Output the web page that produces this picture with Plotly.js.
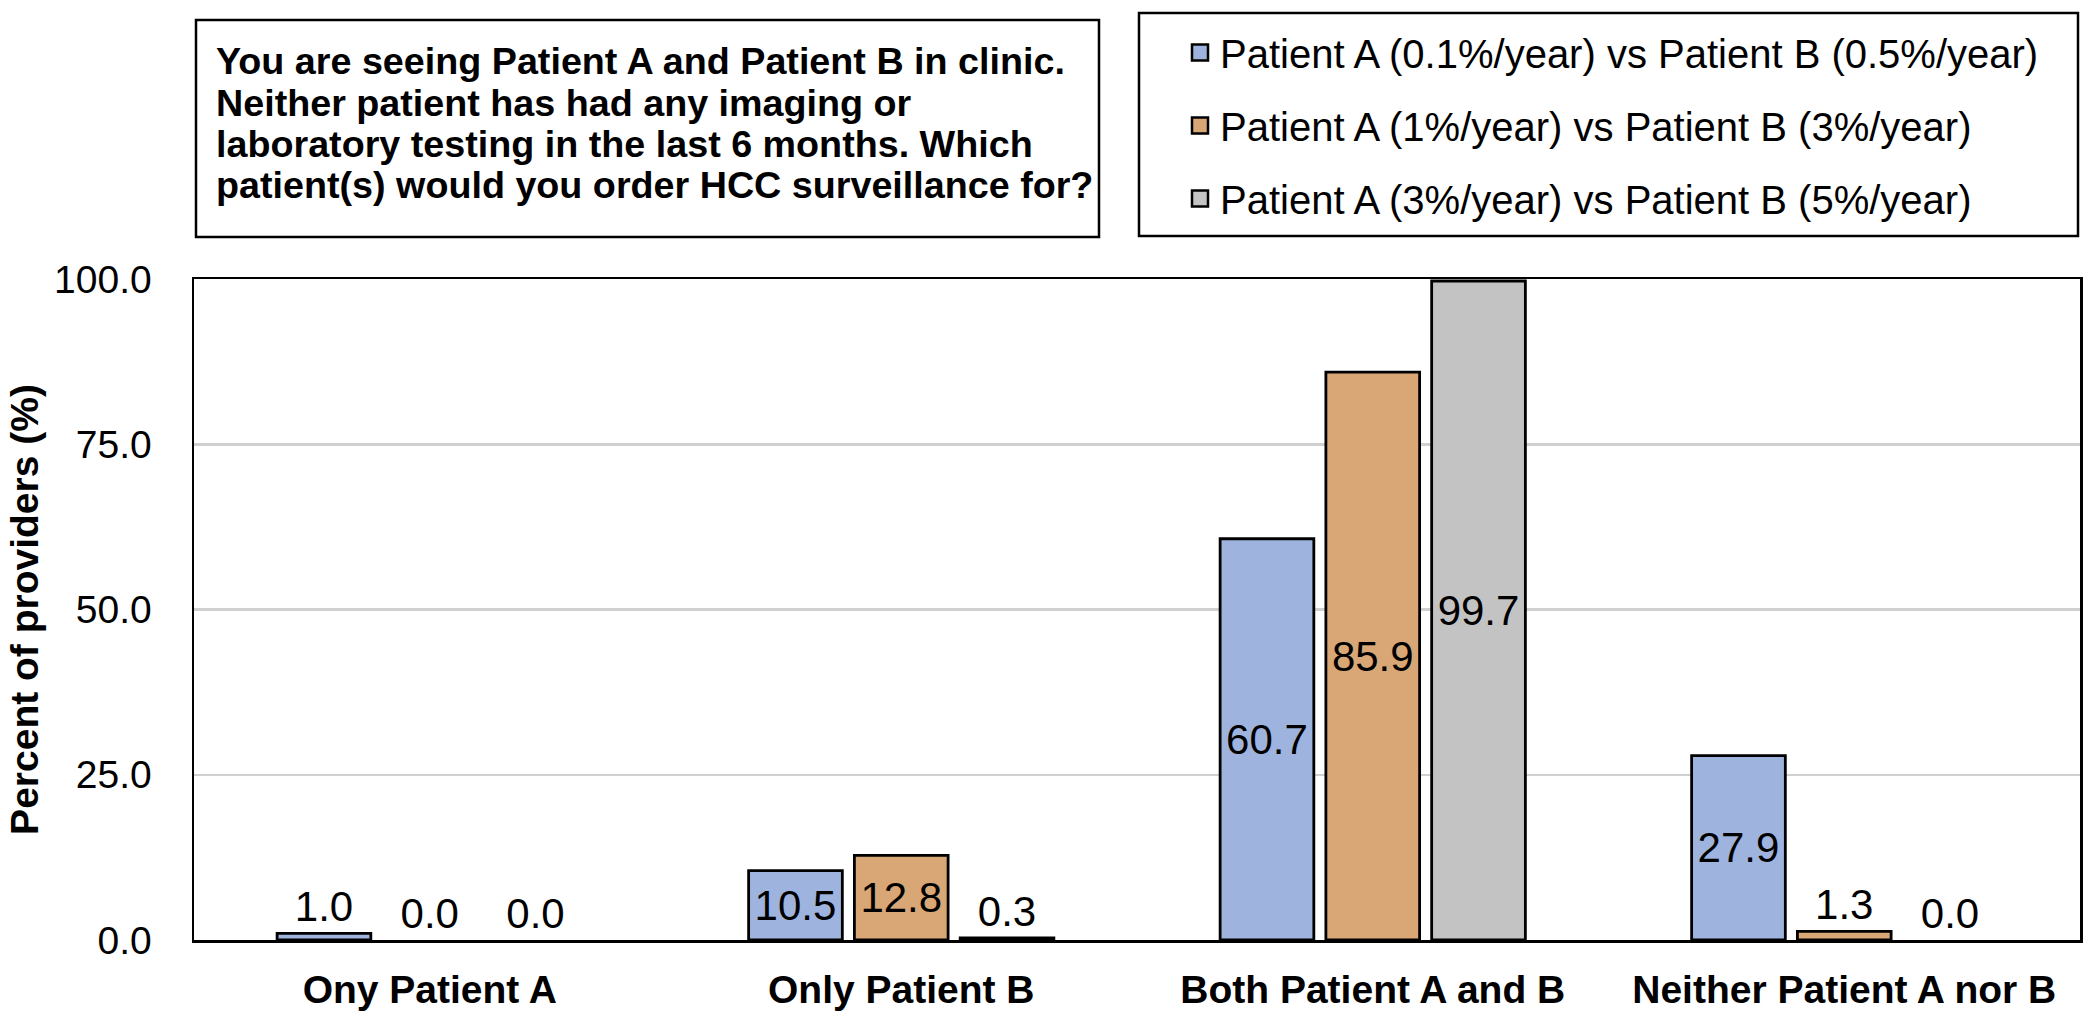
<!DOCTYPE html>
<html>
<head>
<meta charset="utf-8">
<script src="https://cdn.plot.ly/plotly-3.0.1.min.js"></script>
<style>html,body{margin:0;padding:0;background:#fff;}#chart{width:2100px;height:1025px;}</style>
</head>
<body>
<div id="chart"></div>
<script>
// ---- data ----
const categories = ["Ony Patient A", "Only Patient B", "Both Patient A and B", "Neither Patient A nor B"];
const seriesNames = [
  "Patient A (0.1%/year) vs Patient B (0.5%/year)",
  "Patient A (1%/year) vs Patient B (3%/year)",
  "Patient A (3%/year) vs Patient B (5%/year)"
];
const valuesLow  = [1.0, 10.5, 60.7, 27.9];
const valuesMid  = [0.0, 12.8, 85.9, 1.3];
const valuesHigh = [0.0, 0.3, 99.7, 0.0];
const yTickVals = [0, 25, 50, 75, 100];
const questionLines = [
  "You are seeing Patient A and Patient B in clinic.",
  "Neither patient has had any imaging or",
  "laboratory testing in the last 6 months. Which",
  "patient(s) would you order HCC surveillance for?"
];
const yTitle = "Percent of providers (%)";

// ---- styling ----
const FONT = "Liberation Sans, Arial, Helvetica, sans-serif";
const colors = ["#9EB4DE", "#D8A775", "#C4C3C4"];
const W = 2100, H = 1025, ML = 194, MR = 20, MT = 279, MB = 85;
const PW = W - ML - MR, PH = H - MT - MB;
const px2x = p => (p - ML) / PW;
const py2y = p => (H - MB - p) / PH;

const seriesValues = [valuesLow, valuesMid, valuesHigh];
const barTraces = seriesValues.map((vals, i) => ({
  type: "bar",
  name: seriesNames[i],
  legendgroup: "g" + i,
  showlegend: false,
  x: categories,
  y: vals,
  text: vals.map(v => v.toFixed(1)),
  textposition: vals.map(v => v >= 10 ? "inside" : "outside"),
  insidetextanchor: "middle",
  constraintext: "none",
  cliponaxis: false,
  textfont: {family: FONT, size: 42, color: "#000"},
  marker: {color: colors[i], line: {color: "#000", width: vals.map(v => v > 0 ? 2.8 : 0)}},
  hoverinfo: "x+y+name"
}));
// legend entries (square swatches) for the three series
const legendTraces = seriesNames.map((name, i) => ({
  type: "scatter", mode: "markers",
  name: name, legendgroup: "g" + i, showlegend: true,
  x: [null], y: [null],
  marker: {symbol: "square", size: 20, color: colors[i], line: {color: "#000", width: 2.5}},
  hoverinfo: "skip"
}));

const annotations = questionLines.map((line, i) => ({
  xref: "paper", yref: "paper",
  x: px2x(214), y: py2y(61 + i * 41.5),
  xanchor: "left", yanchor: "middle",
  text: line, showarrow: false, align: "left",
  font: {family: FONT, size: 37.7, color: "#000", weight: "bold"}
}));

const layout = {
  width: W, height: H,
  margin: {l: ML, r: MR, t: MT, b: MB},
  paper_bgcolor: "#fff", plot_bgcolor: "#fff",
  font: {family: FONT, color: "#000"},
  barmode: "group",
  bargap: 0.327,
  bargroupgap: 0.114,
  showlegend: true,
  legend: {
    x: px2x(1180), y: py2y(20), xanchor: "left", yanchor: "top",
    bgcolor: "rgba(0,0,0,0)", borderwidth: 0,
    font: {family: FONT, size: 40, color: "#000"},
    traceorder: "grouped",
    tracegroupgap: 18,
    itemsizing: "trace"
  },
  xaxis: {
    type: "category",
    range: [-0.5, 3.5],
    showline: true, linecolor: "#000", linewidth: 2.5, mirror: true,
    ticks: "", showgrid: false, zeroline: false,
    tickfont: {family: FONT, size: 39, color: "#000", weight: "bold"},
    ticklabelstandoff: 14
  },
  yaxis: {
    range: [0, 100],
    tickvals: yTickVals,
    tickformat: ".1f",
    showline: true, linecolor: "#000", linewidth: 2.5, mirror: true,
    ticks: "", showgrid: true, gridcolor: "#D0D0D0", gridwidth: 2.5,
    zeroline: false,
    tickfont: {family: FONT, size: 39, color: "#000"},
    ticklabelstandoff: 32,
    title: {text: yTitle, font: {family: FONT, size: 39, color: "#000", weight: "bold"}, standoff: 4}
  },
  annotations: annotations,
  shapes: [
    {type: "rect", xref: "paper", yref: "paper",
     x0: px2x(196), x1: px2x(1099), y0: py2y(20), y1: py2y(237),
     line: {color: "#000", width: 2.5}, fillcolor: "rgba(0,0,0,0)"},
    {type: "rect", xref: "paper", yref: "paper",
     x0: px2x(1139), x1: px2x(2078), y0: py2y(13), y1: py2y(236),
     line: {color: "#000", width: 2.5}, fillcolor: "rgba(0,0,0,0)"}
  ]
};

Plotly.newPlot("chart", barTraces.concat(legendTraces), layout, {displayModeBar: false, staticPlot: true});
</script>
</body>
</html>
